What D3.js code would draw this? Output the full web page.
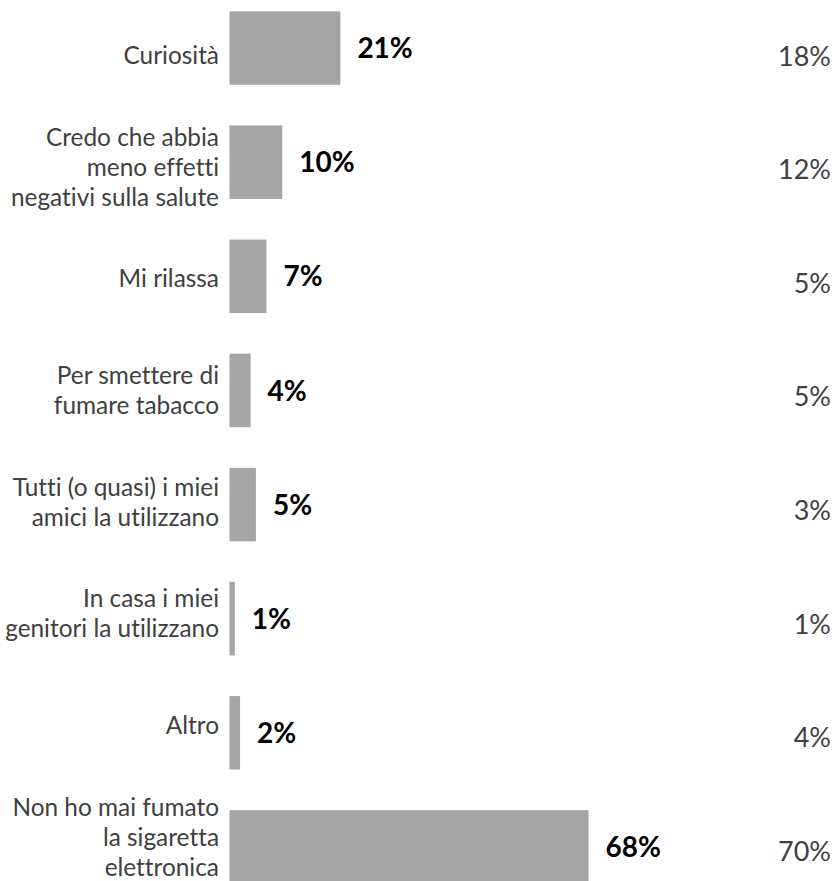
<!DOCTYPE html>
<html><head><meta charset="utf-8">
<script src="https://cdn.jsdelivr.net/npm/d3@7"></script>
<style>body{margin:0;background:#fff} svg{display:block} text{font-variant-ligatures:none;font-feature-settings:"liga" 0}</style>
</head><body>
<script>
const categories = [
  "Curiosità",
  "Credo che abbia\nmeno effetti\nnegativi sulla salute",
  "Mi rilassa",
  "Per smettere di\nfumare tabacco",
  "Tutti (o quasi) i miei\namici la utilizzano",
  "In casa i miei\ngenitori la utilizzano",
  "Altro",
  "Non ho mai fumato\nla sigaretta\nelettronica"
];
const values = [21, 10, 7, 4, 5, 1, 2, 68];
const compareValues = [18, 12, 5, 5, 3, 1, 4, 70];

const W = 835, H = 881;
const FONT = "Lato, 'Open Sans', sans-serif";
const svg = d3.select("body").append("svg").attr("width", W).attr("height", H);

const idx = d3.range(categories.length);
const x = d3.scaleLinear().domain([0, 100]).range([229.5, 229.5 + 528]);
const y = d3.scaleBand().domain(idx)
  .range([-9, 904]).paddingInner(0.356).paddingOuter(0.178);
// category labels sit on a slightly tighter grid than the bars
const yLab = d3.scaleBand().domain(idx).range([-0.5, 892.8]);
// comparison column
const yCmp = d3.scaleBand().domain(idx).range([-0.8, 907.8]);

const data = categories.map((c, i) => ({ c, v: values[i], p: compareValues[i], i }));

svg.selectAll("rect.bar").data(data).join("rect")
  .attr("class", "bar")
  .attr("x", x(0))
  .attr("y", d => y(d.i))
  .attr("width", d => x(d.v) - x(0))
  .attr("height", y.bandwidth())
  .attr("fill", "#a5a5a5");

const lh = 30;
const lab = svg.selectAll("text.cat").data(data).join("text")
  .attr("class", "cat")
  .attr("text-anchor", "end")
  .attr("font-family", FONT)
  .attr("font-size", 24.4)
  .attr("fill", "#404040");
lab.each(function(d) {
  const lines = d.c.split("\n");
  const cy = yLab(d.i) + yLab.bandwidth() / 2;
  d3.select(this).selectAll("tspan").data(lines).join("tspan")
    .attr("x", 219)
    .attr("y", (l, k) => cy + (k - (lines.length - 1) / 2) * lh)
    .attr("dy", "0.36em")
    .text(l => l);
});

svg.selectAll("text.val").data(data).join("text")
  .attr("class", "val")
  .attr("x", d => x(d.v) + 17)
  .attr("y", d => y(d.i) + y.bandwidth() / 2)
  .attr("dy", "0.36em")
  .attr("font-family", FONT)
  .attr("font-weight", "bold")
  .attr("font-size", 28)
  .attr("fill", "#000")
  .text(d => d.v + "%");

svg.selectAll("text.cmp").data(data).join("text")
  .attr("class", "cmp")
  .attr("x", 831)
  .attr("y", d => yCmp(d.i) + yCmp.bandwidth() / 2)
  .attr("dy", "0.36em")
  .attr("text-anchor", "end")
  .attr("font-family", FONT)
  .attr("font-size", 27)
  .attr("fill", "#404040")
  .text(d => d.p + "%");
</script>
</body></html>
